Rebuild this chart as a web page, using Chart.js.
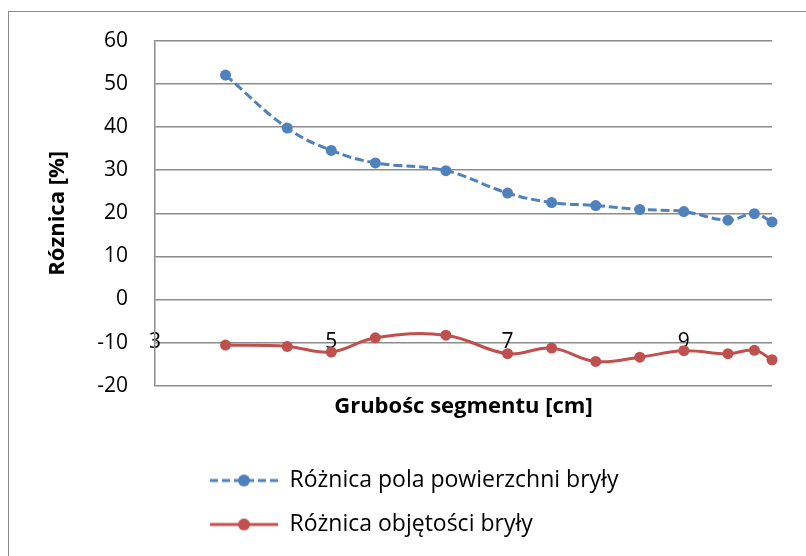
<!DOCTYPE html>
<html>
<head>
<meta charset="utf-8">
<script src="https://cdn.jsdelivr.net/npm/chart.js@4.4.1/dist/chart.umd.min.js"></script>
<style>
  html, body { margin: 0; padding: 0; background: #fff; }
  #wrap { position: relative; width: 806px; height: 556px; overflow: hidden; }
  #frame { position: absolute; left: 8px; top: 11px; width: 900px; height: 700px; border: 1.5px solid #8a8a8a; }
  canvas { position: absolute; left: 0; top: 0; }
</style>
</head>
<body>
<div id="wrap">
  <div id="frame"></div>
  <canvas id="chart" width="806" height="556"></canvas>
</div>
<script>
// grubosc segmentu [cm] and the two differences [%]
const grubosc = [3.8, 4.5, 5, 5.5, 6.3, 7, 7.5, 8, 8.5, 9, 9.5, 9.8, 10];
const roznicaPola = [52.1, 39.8, 34.6, 31.7, 29.9, 24.7, 22.5, 21.8, 20.9, 20.4, 18.4, 19.9, 18.0];
const roznicaObjetosci = [-10.6, -10.9, -12.2, -8.9, -8.3, -12.6, -11.3, -14.4, -13.4, -11.9, -12.6, -11.8, -14.0];
const xTicks = [3, 5, 7, 9];

const FONT = "'Open Sans', sans-serif";
const GRID = '#8c8c8c';

// little line + dot sample used as the legend symbol
function legendLine(color, dash) {
  const c = document.createElement('canvas');
  c.width = 68; c.height = 14;
  const ctx = c.getContext('2d');
  ctx.strokeStyle = color;
  ctx.lineWidth = 3;
  ctx.setLineDash(dash);
  ctx.beginPath(); ctx.moveTo(0, 7); ctx.lineTo(68, 7); ctx.stroke();
  ctx.setLineDash([]);
  ctx.fillStyle = color;
  ctx.beginPath(); ctx.arc(34, 7, 6, 0, Math.PI * 2); ctx.fill();
  return c;
}

// push the legend rows to the same left edge as in the original
const legendShift = {
  id: 'legendShift',
  afterLayout(chart) {
    chart.legend.left = 210 - chart.legend.options.labels.padding;
  }
};

new Chart(document.getElementById('chart'), {
  type: 'line',
  data: {
    datasets: [{
      label: 'Różnica pola powierzchni bryły',
      data: grubosc.map((x, i) => ({ x: x, y: roznicaPola[i] })),
      borderColor: '#4f81bd',
      backgroundColor: '#4f81bd',
      borderWidth: 3,
      borderDash: [9, 4],
      pointRadius: 5.5,
      pointBorderWidth: 0,
      pointBackgroundColor: '#4f81bd',
      tension: 0.4,
      clip: false
    },
    {
      label: 'Różnica objętości bryły',
      data: grubosc.map((x, i) => ({ x: x, y: roznicaObjetosci[i] })),
      borderColor: '#c0504d',
      backgroundColor: '#c0504d',
      borderWidth: 3,
      pointRadius: 5.5,
      pointBorderWidth: 0,
      pointBackgroundColor: '#c0504d',
      tension: 0.4,
      clip: false
    }]
  },
  options: {
    responsive: false,
    animation: false,
    layout: { padding: { top: 41, right: 34, left: 0, bottom: 10 } },
    scales: {
      x: {
        type: 'linear',
        min: 3,
        max: 10,
        position: 'bottom',
        grid: { display: false, drawTicks: false },
        border: { display: false },
        ticks: { display: false },
        title: {
          display: true,
          text: 'Grubośc segmentu [cm]',
          color: '#000',
          font: { family: FONT, size: 22, weight: 'bold' },
          padding: { top: 8, bottom: 28 }
        }
      },
      xt: {
        type: 'linear',
        min: 3,
        max: 10,
        position: { y: -10 },
        grid: { display: false, drawTicks: false },
        border: { display: false },
        afterBuildTicks: s => { s.ticks = xTicks.map(v => ({ value: v })); },
        ticks: {
          color: '#000',
          font: { family: FONT, size: 21 },
          padding: -13,
          maxRotation: 0,
          autoSkip: false
        }
      },
      y: {
        min: -20,
        max: 60,
        afterFit: s => { s.width = 155; },
        ticks: {
          stepSize: 10,
          padding: 27,
          color: '#000',
          font: { family: FONT, size: 21 }
        },
        grid: { color: GRID, lineWidth: 1.5, drawTicks: false },
        border: { color: GRID, width: 1.5 },
        title: {
          display: true,
          text: 'Róznica [%]',
          color: '#000',
          font: { family: FONT, size: 22, weight: 'bold' },
          padding: { top: 45, bottom: 0 }
        }
      }
    },
    plugins: {
      tooltip: { enabled: false },
      legend: {
        position: 'bottom',
        align: 'start',
        fullSize: false,
        labels: {
          usePointStyle: true,
          pointStyleWidth: 68,
          padding: 21,
          color: '#000',
          font: { family: FONT, size: 23 },
          generateLabels: chart => chart.data.datasets.map((ds, i) => ({
            text: ds.label,
            pointStyle: legendLine(ds.borderColor, ds.borderDash ? [8, 4] : []),
            fillStyle: ds.borderColor,
            strokeStyle: ds.borderColor,
            lineWidth: 0,
            fontColor: '#000',
            hidden: false,
            datasetIndex: i
          }))
        }
      }
    }
  },
  plugins: [legendShift]
});
</script>
</body>
</html>
